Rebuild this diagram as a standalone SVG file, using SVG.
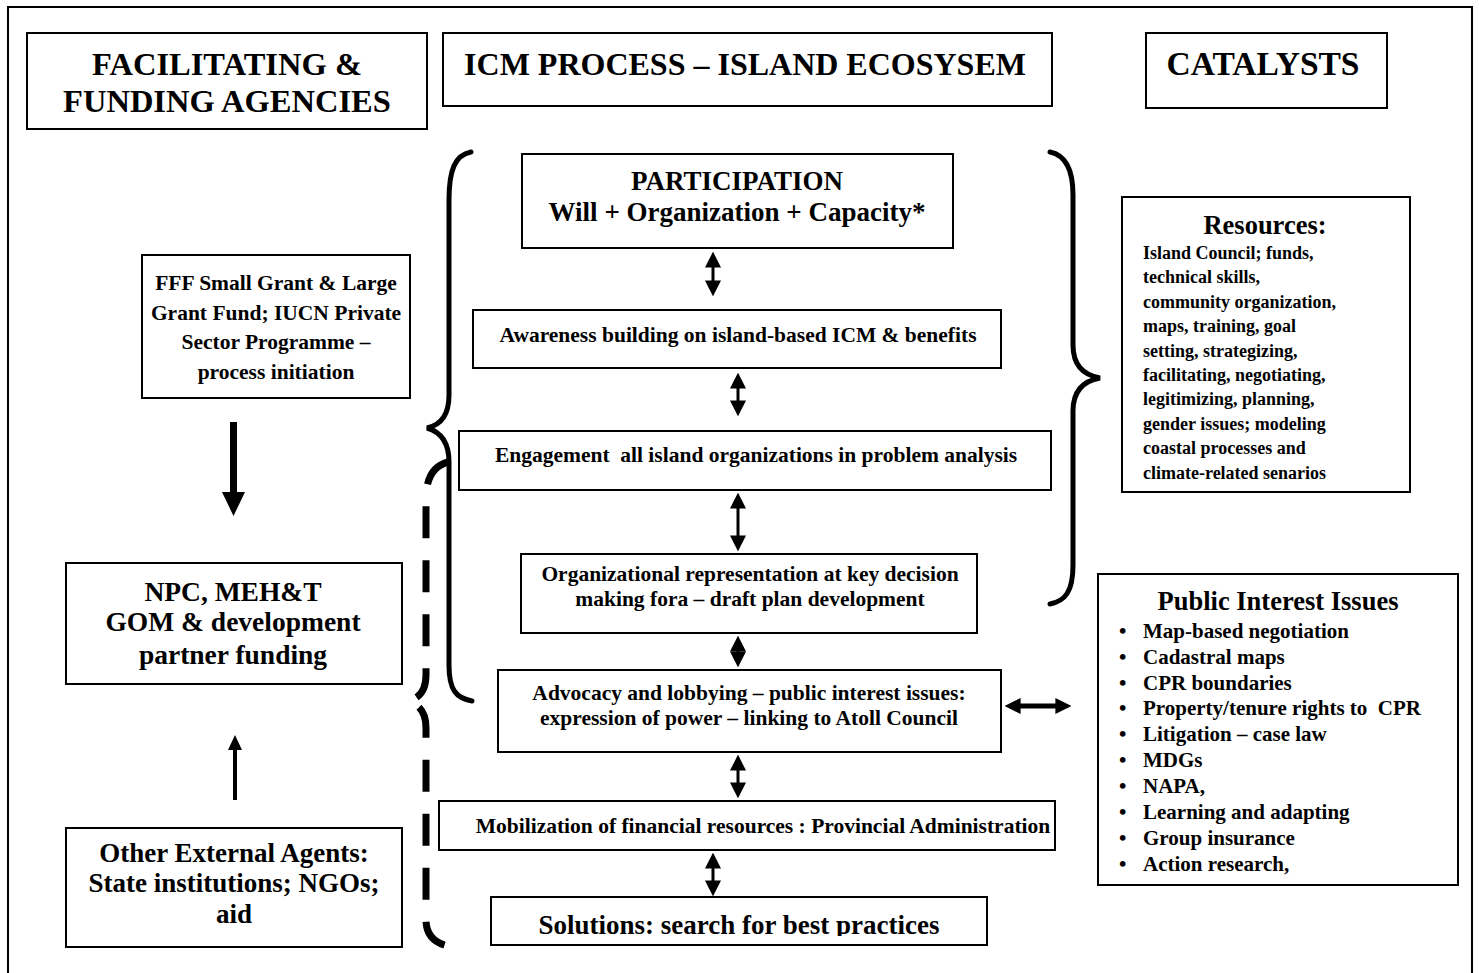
<svg xmlns="http://www.w3.org/2000/svg" width="1479" height="973" viewBox="0 0 1479 973">
  <style>
    .box { fill: #ffffff; stroke: #000000; stroke-width: 2; }
    .t { font-family: "Liberation Serif", "Times New Roman", serif; font-weight: bold; fill: #000000; }
    .c { text-anchor: middle; }
    .h { font-size: 32.5px; }
    .p { font-size: 27px; }
    .m { font-size: 21.5px; }
    .s { font-size: 21.5px; }
    .r { font-size: 18px; }
    .b { font-size: 21px; }
    .brace { fill: none; stroke: #000000; stroke-width: 5; stroke-linecap: round; }
    .dash { fill: none; stroke: #000000; stroke-width: 7; stroke-dasharray: 32 22; }
    .shaft { stroke: #000000; fill: none; }
  </style>
  <defs>
    <marker id="headS" viewBox="0 0 10 10" refX="1" refY="5" markerWidth="16" markerHeight="16" markerUnits="userSpaceOnUse" orient="auto-start-reverse">
      <path d="M0,0 L10,5 L0,10 Z" fill="#000000"/>
    </marker>
    <clipPath id="solClip">
      <rect x="491" y="897" width="496" height="39"/>
    </clipPath>
  </defs>

  <rect width="1479" height="973" fill="#ffffff"/>
  <!-- outer frame (open at the bottom edge) -->
  <path d="M8,980 L8,7 L1472,7 L1472,980" fill="none" stroke="#000000" stroke-width="2"/>

  <!-- column headings -->
  <g id="head-agencies">
    <rect class="box" x="27" y="33" width="400" height="96"/>
    <text class="t c h" x="227" y="75">FACILITATING &amp;</text>
    <text class="t c h" x="227" y="112">FUNDING AGENCIES</text>
  </g>
  <g id="head-icm">
    <rect class="box" x="443" y="33" width="609" height="73"/>
    <text class="t c h" x="745" y="75" style="font-size:32px">ICM PROCESS – ISLAND ECOSYSEM</text>
  </g>
  <g id="head-catalysts">
    <rect class="box" x="1146" y="33" width="241" height="75"/>
    <text class="t c h" x="1263" y="75" style="font-size:33.5px">CATALYSTS</text>
  </g>

  <!-- central process steps -->
  <g id="participation">
    <rect class="box" x="522" y="154" width="431" height="94"/>
    <text class="t c p" x="737" y="190">PARTICIPATION</text>
    <text class="t c p" x="737" y="221">Will + Organization + Capacity*</text>
  </g>
  <g id="awareness">
    <rect class="box" x="473" y="310" width="528" height="58"/>
    <text class="t c s" x="738" y="342">Awareness building on island-based ICM &amp; benefits</text>
  </g>
  <g id="engagement">
    <rect class="box" x="459" y="431" width="592" height="59"/>
    <text class="t c s" x="756" y="462" xml:space="preserve">Engagement  all island organizations in problem analysis</text>
  </g>
  <g id="representation">
    <rect class="box" x="521" y="554" width="456" height="79"/>
    <text class="t c s" x="750" y="581">Organizational representation at key decision</text>
    <text class="t c s" x="750" y="606">making fora – draft plan development</text>
  </g>
  <g id="advocacy">
    <rect class="box" x="498" y="670" width="503" height="82"/>
    <text class="t c s" x="749" y="700">Advocacy and lobbying – public interest issues:</text>
    <text class="t c s" x="749" y="725">expression of power – linking to Atoll Council</text>
  </g>
  <g id="mobilization">
    <rect class="box" x="439" y="801" width="616" height="49"/>
    <text class="t c s" x="763" y="833">Mobilization of financial resources : Provincial Administration</text>
  </g>
  <g id="solutions">
    <rect class="box" x="491" y="897" width="496" height="48"/>
    <text class="t c p" x="739" y="934" clip-path="url(#solClip)">Solutions: search for best practices</text>
  </g>

  <!-- agencies column -->
  <g id="fff">
    <rect class="box" x="142" y="255" width="268" height="143"/>
    <text class="t c m" x="276" y="290">FFF Small Grant &amp; Large</text>
    <text class="t c m" x="276" y="320">Grant Fund; IUCN Private</text>
    <text class="t c m" x="276" y="349">Sector Programme –</text>
    <text class="t c m" x="276" y="379">process initiation</text>
  </g>
  <g id="npc">
    <rect class="box" x="66" y="563" width="336" height="121"/>
    <text class="t c p" x="233" y="601" style="font-size:27.5px">NPC, MEH&amp;T</text>
    <text class="t c p" x="233" y="631" style="font-size:27.5px">GOM &amp; development</text>
    <text class="t c p" x="233" y="664" style="font-size:27.5px">partner funding</text>
  </g>
  <g id="external">
    <rect class="box" x="66" y="828" width="336" height="119"/>
    <text class="t c p" x="234" y="862">Other External Agents:</text>
    <text class="t c p" x="234" y="892">State institutions; NGOs;</text>
    <text class="t c p" x="234" y="923">aid</text>
  </g>

  <!-- catalysts column -->
  <g id="resources">
    <rect class="box" x="1122" y="197" width="288" height="295"/>
    <text class="t c" x="1265" y="234" style="font-size:26.5px">Resources:</text>
    <g class="t r">
      <text x="1143" y="259">Island Council; funds,</text>
      <text x="1143" y="283.4">technical skills,</text>
      <text x="1143" y="307.8">community organization,</text>
      <text x="1143" y="332.2">maps, training, goal</text>
      <text x="1143" y="356.6">setting, strategizing,</text>
      <text x="1143" y="381">facilitating, negotiating,</text>
      <text x="1143" y="405.4">legitimizing, planning,</text>
      <text x="1143" y="429.8">gender issues; modeling</text>
      <text x="1143" y="454.2">coastal processes and</text>
      <text x="1143" y="478.6">climate-related senarios</text>
    </g>
  </g>
  <g id="public-interest">
    <rect class="box" x="1098" y="574" width="360" height="311"/>
    <text class="t c" x="1278" y="610" style="font-size:26.5px">Public Interest Issues</text>
    <g class="t b">
      <text x="1119" y="638">•</text><text x="1143" y="638">Map-based negotiation</text>
      <text x="1119" y="664">•</text><text x="1143" y="664">Cadastral maps</text>
      <text x="1119" y="690">•</text><text x="1143" y="690">CPR boundaries</text>
      <text x="1119" y="715">•</text><text x="1143" y="715" xml:space="preserve">Property/tenure rights to  CPR</text>
      <text x="1119" y="741">•</text><text x="1143" y="741">Litigation – case law</text>
      <text x="1119" y="767">•</text><text x="1143" y="767">MDGs</text>
      <text x="1119" y="793">•</text><text x="1143" y="793">NAPA,</text>
      <text x="1119" y="819">•</text><text x="1143" y="819">Learning and adapting</text>
      <text x="1119" y="845">•</text><text x="1143" y="845">Group insurance</text>
      <text x="1119" y="871">•</text><text x="1143" y="871">Action research,</text>
    </g>
  </g>

  <!-- connectors: arrows, braces and the dashed grouping -->
  <g id="connectors">
    <!-- two-way links between process steps -->
    <line class="shaft" stroke-width="3" x1="713" y1="266" x2="713" y2="282" marker-start="url(#headS)" marker-end="url(#headS)"/>
    <line class="shaft" stroke-width="3" x1="738" y1="387" x2="738" y2="402" marker-start="url(#headS)" marker-end="url(#headS)"/>
    <line class="shaft" stroke-width="3" x1="738" y1="507" x2="738" y2="537" marker-start="url(#headS)" marker-end="url(#headS)"/>
    <line class="shaft" stroke-width="3" x1="738" y1="650" x2="738" y2="653" marker-start="url(#headS)" marker-end="url(#headS)"/>
    <line class="shaft" stroke-width="3" x1="738" y1="769" x2="738" y2="784" marker-start="url(#headS)" marker-end="url(#headS)"/>
    <line class="shaft" stroke-width="3" x1="713" y1="867" x2="713" y2="882" marker-start="url(#headS)" marker-end="url(#headS)"/>
    <!-- advocacy to public interest issues -->
    <line class="shaft" stroke-width="5" x1="1019" y1="706" x2="1057" y2="706" marker-start="url(#headS)" marker-end="url(#headS)"/>
    <!-- agencies column arrows -->
    <polygon points="230,422 237,422 237,492 245,492 233.5,516 222,492 230,492" fill="#000000"/>
    <polygon points="233,800 237,800 237,750 242,750 235,735 228,750 233,750" fill="#000000"/>

    <!-- left brace spanning the participation steps -->
    <path class="brace" d="M471,152 C455,155 449,170 449,200 L449,395 C449,415 441,425 427,428 C441,432 449,442 449,462 L449,665 C449,690 456,698 472,701"/>
    <!-- right brace pointing to resources -->
    <path class="brace" d="M1050,152 C1065,155 1073,168 1073,195 L1073,345 C1073,365 1083,375 1100,378 C1083,381 1073,391 1073,411 L1073,565 C1073,592 1065,601 1050,604"/>
    <!-- dashed brace -->
    <path class="dash" d="M448,462 C433,466 426,478 426,500 L426,675 C426,690 420,698 408,701 C420,705 426,713 426,728 L426,920 C426,935 435,943 448,946"/>
  </g>
</svg>
